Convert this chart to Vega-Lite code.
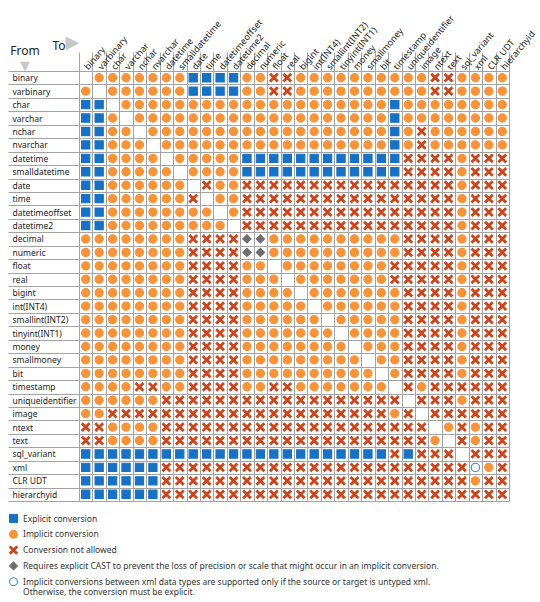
{
  "$schema": "https://vega.github.io/schema/vega-lite/v6.json",
  "width": 430,
  "height": 430,
  "autosize": "none",
  "padding": {"left": 79, "top": 71, "right": 31, "bottom": 101},
  "background": "white",
  "config": {
    "font": "Noto Sans",
    "view": {"stroke": null},
    "axis": {"labelFont": "Noto Sans", "titleFont": "Noto Sans"}
  },
  "title": {
    "text": "From",
    "subtitle": "▼",
    "anchor": "start",
    "frame": "group",
    "align": "center",
    "dx": -54,
    "dy": 65,
    "fontSize": 12,
    "fontWeight": "normal",
    "color": "#222222",
    "subtitleFont": "DejaVu Sans",
    "subtitleColor": "#c8c8c8",
    "subtitleFontSize": 13,
    "subtitlePadding": 2
  },
  "data": {
    "values": [
      {"f":0,"t":1,"k":"I"},{"f":0,"t":2,"k":"I"},{"f":0,"t":3,"k":"I"},{"f":0,"t":4,"k":"I"},{"f":0,"t":5,"k":"I"},{"f":0,"t":6,"k":"I"},{"f":0,"t":7,"k":"I"},{"f":0,"t":8,"k":"E"},{"f":0,"t":9,"k":"E"},{"f":0,"t":10,"k":"E"},{"f":0,"t":11,"k":"E"},{"f":0,"t":12,"k":"I"},{"f":0,"t":13,"k":"I"},{"f":0,"t":14,"k":"N"},{"f":0,"t":15,"k":"N"},{"f":0,"t":16,"k":"I"},{"f":0,"t":17,"k":"I"},{"f":0,"t":18,"k":"I"},{"f":0,"t":19,"k":"I"},{"f":0,"t":20,"k":"I"},{"f":0,"t":21,"k":"I"},{"f":0,"t":22,"k":"I"},{"f":0,"t":23,"k":"I"},{"f":0,"t":24,"k":"I"},{"f":0,"t":25,"k":"I"},{"f":0,"t":26,"k":"N"},{"f":0,"t":27,"k":"N"},{"f":0,"t":28,"k":"I"},{"f":0,"t":29,"k":"I"},{"f":0,"t":30,"k":"I"},{"f":0,"t":31,"k":"I"},
      {"f":1,"t":0,"k":"I"},{"f":1,"t":2,"k":"I"},{"f":1,"t":3,"k":"I"},{"f":1,"t":4,"k":"I"},{"f":1,"t":5,"k":"I"},{"f":1,"t":6,"k":"I"},{"f":1,"t":7,"k":"I"},{"f":1,"t":8,"k":"E"},{"f":1,"t":9,"k":"E"},{"f":1,"t":10,"k":"E"},{"f":1,"t":11,"k":"E"},{"f":1,"t":12,"k":"I"},{"f":1,"t":13,"k":"I"},{"f":1,"t":14,"k":"N"},{"f":1,"t":15,"k":"N"},{"f":1,"t":16,"k":"I"},{"f":1,"t":17,"k":"I"},{"f":1,"t":18,"k":"I"},{"f":1,"t":19,"k":"I"},{"f":1,"t":20,"k":"I"},{"f":1,"t":21,"k":"I"},{"f":1,"t":22,"k":"I"},{"f":1,"t":23,"k":"I"},{"f":1,"t":24,"k":"I"},{"f":1,"t":25,"k":"I"},{"f":1,"t":26,"k":"N"},{"f":1,"t":27,"k":"N"},{"f":1,"t":28,"k":"I"},{"f":1,"t":29,"k":"I"},{"f":1,"t":30,"k":"I"},{"f":1,"t":31,"k":"I"},
      {"f":2,"t":0,"k":"E"},{"f":2,"t":1,"k":"E"},{"f":2,"t":3,"k":"I"},{"f":2,"t":4,"k":"I"},{"f":2,"t":5,"k":"I"},{"f":2,"t":6,"k":"I"},{"f":2,"t":7,"k":"I"},{"f":2,"t":8,"k":"I"},{"f":2,"t":9,"k":"I"},{"f":2,"t":10,"k":"I"},{"f":2,"t":11,"k":"I"},{"f":2,"t":12,"k":"I"},{"f":2,"t":13,"k":"I"},{"f":2,"t":14,"k":"I"},{"f":2,"t":15,"k":"I"},{"f":2,"t":16,"k":"I"},{"f":2,"t":17,"k":"I"},{"f":2,"t":18,"k":"I"},{"f":2,"t":19,"k":"I"},{"f":2,"t":20,"k":"I"},{"f":2,"t":21,"k":"I"},{"f":2,"t":22,"k":"I"},{"f":2,"t":23,"k":"E"},{"f":2,"t":24,"k":"I"},{"f":2,"t":25,"k":"I"},{"f":2,"t":26,"k":"I"},{"f":2,"t":27,"k":"I"},{"f":2,"t":28,"k":"I"},{"f":2,"t":29,"k":"I"},{"f":2,"t":30,"k":"I"},{"f":2,"t":31,"k":"I"},
      {"f":3,"t":0,"k":"E"},{"f":3,"t":1,"k":"E"},{"f":3,"t":2,"k":"I"},{"f":3,"t":4,"k":"I"},{"f":3,"t":5,"k":"I"},{"f":3,"t":6,"k":"I"},{"f":3,"t":7,"k":"I"},{"f":3,"t":8,"k":"I"},{"f":3,"t":9,"k":"I"},{"f":3,"t":10,"k":"I"},{"f":3,"t":11,"k":"I"},{"f":3,"t":12,"k":"I"},{"f":3,"t":13,"k":"I"},{"f":3,"t":14,"k":"I"},{"f":3,"t":15,"k":"I"},{"f":3,"t":16,"k":"I"},{"f":3,"t":17,"k":"I"},{"f":3,"t":18,"k":"I"},{"f":3,"t":19,"k":"I"},{"f":3,"t":20,"k":"I"},{"f":3,"t":21,"k":"I"},{"f":3,"t":22,"k":"I"},{"f":3,"t":23,"k":"E"},{"f":3,"t":24,"k":"I"},{"f":3,"t":25,"k":"I"},{"f":3,"t":26,"k":"I"},{"f":3,"t":27,"k":"I"},{"f":3,"t":28,"k":"I"},{"f":3,"t":29,"k":"I"},{"f":3,"t":30,"k":"I"},{"f":3,"t":31,"k":"I"},
      {"f":4,"t":0,"k":"E"},{"f":4,"t":1,"k":"E"},{"f":4,"t":2,"k":"I"},{"f":4,"t":3,"k":"I"},{"f":4,"t":5,"k":"I"},{"f":4,"t":6,"k":"I"},{"f":4,"t":7,"k":"I"},{"f":4,"t":8,"k":"I"},{"f":4,"t":9,"k":"I"},{"f":4,"t":10,"k":"I"},{"f":4,"t":11,"k":"I"},{"f":4,"t":12,"k":"I"},{"f":4,"t":13,"k":"I"},{"f":4,"t":14,"k":"I"},{"f":4,"t":15,"k":"I"},{"f":4,"t":16,"k":"I"},{"f":4,"t":17,"k":"I"},{"f":4,"t":18,"k":"I"},{"f":4,"t":19,"k":"I"},{"f":4,"t":20,"k":"I"},{"f":4,"t":21,"k":"I"},{"f":4,"t":22,"k":"I"},{"f":4,"t":23,"k":"E"},{"f":4,"t":24,"k":"I"},{"f":4,"t":25,"k":"N"},{"f":4,"t":26,"k":"I"},{"f":4,"t":27,"k":"I"},{"f":4,"t":28,"k":"I"},{"f":4,"t":29,"k":"I"},{"f":4,"t":30,"k":"I"},{"f":4,"t":31,"k":"I"},
      {"f":5,"t":0,"k":"E"},{"f":5,"t":1,"k":"E"},{"f":5,"t":2,"k":"I"},{"f":5,"t":3,"k":"I"},{"f":5,"t":4,"k":"I"},{"f":5,"t":6,"k":"I"},{"f":5,"t":7,"k":"I"},{"f":5,"t":8,"k":"I"},{"f":5,"t":9,"k":"I"},{"f":5,"t":10,"k":"I"},{"f":5,"t":11,"k":"I"},{"f":5,"t":12,"k":"I"},{"f":5,"t":13,"k":"I"},{"f":5,"t":14,"k":"I"},{"f":5,"t":15,"k":"I"},{"f":5,"t":16,"k":"I"},{"f":5,"t":17,"k":"I"},{"f":5,"t":18,"k":"I"},{"f":5,"t":19,"k":"I"},{"f":5,"t":20,"k":"I"},{"f":5,"t":21,"k":"I"},{"f":5,"t":22,"k":"I"},{"f":5,"t":23,"k":"E"},{"f":5,"t":24,"k":"I"},{"f":5,"t":25,"k":"N"},{"f":5,"t":26,"k":"I"},{"f":5,"t":27,"k":"I"},{"f":5,"t":28,"k":"I"},{"f":5,"t":29,"k":"I"},{"f":5,"t":30,"k":"I"},{"f":5,"t":31,"k":"I"},
      {"f":6,"t":0,"k":"E"},{"f":6,"t":1,"k":"E"},{"f":6,"t":2,"k":"I"},{"f":6,"t":3,"k":"I"},{"f":6,"t":4,"k":"I"},{"f":6,"t":5,"k":"I"},{"f":6,"t":7,"k":"I"},{"f":6,"t":8,"k":"I"},{"f":6,"t":9,"k":"I"},{"f":6,"t":10,"k":"I"},{"f":6,"t":11,"k":"I"},{"f":6,"t":12,"k":"E"},{"f":6,"t":13,"k":"E"},{"f":6,"t":14,"k":"E"},{"f":6,"t":15,"k":"E"},{"f":6,"t":16,"k":"E"},{"f":6,"t":17,"k":"E"},{"f":6,"t":18,"k":"E"},{"f":6,"t":19,"k":"E"},{"f":6,"t":20,"k":"E"},{"f":6,"t":21,"k":"E"},{"f":6,"t":22,"k":"E"},{"f":6,"t":23,"k":"E"},{"f":6,"t":24,"k":"N"},{"f":6,"t":25,"k":"N"},{"f":6,"t":26,"k":"N"},{"f":6,"t":27,"k":"N"},{"f":6,"t":28,"k":"I"},{"f":6,"t":29,"k":"N"},{"f":6,"t":30,"k":"N"},{"f":6,"t":31,"k":"N"},
      {"f":7,"t":0,"k":"E"},{"f":7,"t":1,"k":"E"},{"f":7,"t":2,"k":"I"},{"f":7,"t":3,"k":"I"},{"f":7,"t":4,"k":"I"},{"f":7,"t":5,"k":"I"},{"f":7,"t":6,"k":"I"},{"f":7,"t":8,"k":"I"},{"f":7,"t":9,"k":"I"},{"f":7,"t":10,"k":"I"},{"f":7,"t":11,"k":"I"},{"f":7,"t":12,"k":"E"},{"f":7,"t":13,"k":"E"},{"f":7,"t":14,"k":"E"},{"f":7,"t":15,"k":"E"},{"f":7,"t":16,"k":"E"},{"f":7,"t":17,"k":"E"},{"f":7,"t":18,"k":"E"},{"f":7,"t":19,"k":"E"},{"f":7,"t":20,"k":"E"},{"f":7,"t":21,"k":"E"},{"f":7,"t":22,"k":"E"},{"f":7,"t":23,"k":"E"},{"f":7,"t":24,"k":"N"},{"f":7,"t":25,"k":"N"},{"f":7,"t":26,"k":"N"},{"f":7,"t":27,"k":"N"},{"f":7,"t":28,"k":"I"},{"f":7,"t":29,"k":"N"},{"f":7,"t":30,"k":"N"},{"f":7,"t":31,"k":"N"},
      {"f":8,"t":0,"k":"E"},{"f":8,"t":1,"k":"E"},{"f":8,"t":2,"k":"I"},{"f":8,"t":3,"k":"I"},{"f":8,"t":4,"k":"I"},{"f":8,"t":5,"k":"I"},{"f":8,"t":6,"k":"I"},{"f":8,"t":7,"k":"I"},{"f":8,"t":9,"k":"N"},{"f":8,"t":10,"k":"I"},{"f":8,"t":11,"k":"I"},{"f":8,"t":12,"k":"N"},{"f":8,"t":13,"k":"N"},{"f":8,"t":14,"k":"N"},{"f":8,"t":15,"k":"N"},{"f":8,"t":16,"k":"N"},{"f":8,"t":17,"k":"N"},{"f":8,"t":18,"k":"N"},{"f":8,"t":19,"k":"N"},{"f":8,"t":20,"k":"N"},{"f":8,"t":21,"k":"N"},{"f":8,"t":22,"k":"N"},{"f":8,"t":23,"k":"N"},{"f":8,"t":24,"k":"N"},{"f":8,"t":25,"k":"N"},{"f":8,"t":26,"k":"N"},{"f":8,"t":27,"k":"N"},{"f":8,"t":28,"k":"I"},{"f":8,"t":29,"k":"N"},{"f":8,"t":30,"k":"N"},{"f":8,"t":31,"k":"N"},
      {"f":9,"t":0,"k":"E"},{"f":9,"t":1,"k":"E"},{"f":9,"t":2,"k":"I"},{"f":9,"t":3,"k":"I"},{"f":9,"t":4,"k":"I"},{"f":9,"t":5,"k":"I"},{"f":9,"t":6,"k":"I"},{"f":9,"t":7,"k":"I"},{"f":9,"t":8,"k":"N"},{"f":9,"t":10,"k":"I"},{"f":9,"t":11,"k":"I"},{"f":9,"t":12,"k":"N"},{"f":9,"t":13,"k":"N"},{"f":9,"t":14,"k":"N"},{"f":9,"t":15,"k":"N"},{"f":9,"t":16,"k":"N"},{"f":9,"t":17,"k":"N"},{"f":9,"t":18,"k":"N"},{"f":9,"t":19,"k":"N"},{"f":9,"t":20,"k":"N"},{"f":9,"t":21,"k":"N"},{"f":9,"t":22,"k":"N"},{"f":9,"t":23,"k":"N"},{"f":9,"t":24,"k":"N"},{"f":9,"t":25,"k":"N"},{"f":9,"t":26,"k":"N"},{"f":9,"t":27,"k":"N"},{"f":9,"t":28,"k":"I"},{"f":9,"t":29,"k":"N"},{"f":9,"t":30,"k":"N"},{"f":9,"t":31,"k":"N"},
      {"f":10,"t":0,"k":"E"},{"f":10,"t":1,"k":"E"},{"f":10,"t":2,"k":"I"},{"f":10,"t":3,"k":"I"},{"f":10,"t":4,"k":"I"},{"f":10,"t":5,"k":"I"},{"f":10,"t":6,"k":"I"},{"f":10,"t":7,"k":"I"},{"f":10,"t":8,"k":"I"},{"f":10,"t":9,"k":"I"},{"f":10,"t":11,"k":"I"},{"f":10,"t":12,"k":"N"},{"f":10,"t":13,"k":"N"},{"f":10,"t":14,"k":"N"},{"f":10,"t":15,"k":"N"},{"f":10,"t":16,"k":"N"},{"f":10,"t":17,"k":"N"},{"f":10,"t":18,"k":"N"},{"f":10,"t":19,"k":"N"},{"f":10,"t":20,"k":"N"},{"f":10,"t":21,"k":"N"},{"f":10,"t":22,"k":"N"},{"f":10,"t":23,"k":"N"},{"f":10,"t":24,"k":"N"},{"f":10,"t":25,"k":"N"},{"f":10,"t":26,"k":"N"},{"f":10,"t":27,"k":"N"},{"f":10,"t":28,"k":"I"},{"f":10,"t":29,"k":"N"},{"f":10,"t":30,"k":"N"},{"f":10,"t":31,"k":"N"},
      {"f":11,"t":0,"k":"E"},{"f":11,"t":1,"k":"E"},{"f":11,"t":2,"k":"I"},{"f":11,"t":3,"k":"I"},{"f":11,"t":4,"k":"I"},{"f":11,"t":5,"k":"I"},{"f":11,"t":6,"k":"I"},{"f":11,"t":7,"k":"I"},{"f":11,"t":8,"k":"I"},{"f":11,"t":9,"k":"I"},{"f":11,"t":10,"k":"I"},{"f":11,"t":12,"k":"N"},{"f":11,"t":13,"k":"N"},{"f":11,"t":14,"k":"N"},{"f":11,"t":15,"k":"N"},{"f":11,"t":16,"k":"N"},{"f":11,"t":17,"k":"N"},{"f":11,"t":18,"k":"N"},{"f":11,"t":19,"k":"N"},{"f":11,"t":20,"k":"N"},{"f":11,"t":21,"k":"N"},{"f":11,"t":22,"k":"N"},{"f":11,"t":23,"k":"N"},{"f":11,"t":24,"k":"N"},{"f":11,"t":25,"k":"N"},{"f":11,"t":26,"k":"N"},{"f":11,"t":27,"k":"N"},{"f":11,"t":28,"k":"I"},{"f":11,"t":29,"k":"N"},{"f":11,"t":30,"k":"N"},{"f":11,"t":31,"k":"N"},
      {"f":12,"t":0,"k":"I"},{"f":12,"t":1,"k":"I"},{"f":12,"t":2,"k":"I"},{"f":12,"t":3,"k":"I"},{"f":12,"t":4,"k":"I"},{"f":12,"t":5,"k":"I"},{"f":12,"t":6,"k":"I"},{"f":12,"t":7,"k":"I"},{"f":12,"t":8,"k":"N"},{"f":12,"t":9,"k":"N"},{"f":12,"t":10,"k":"N"},{"f":12,"t":11,"k":"N"},{"f":12,"t":12,"k":"P"},{"f":12,"t":13,"k":"P"},{"f":12,"t":14,"k":"I"},{"f":12,"t":15,"k":"I"},{"f":12,"t":16,"k":"I"},{"f":12,"t":17,"k":"I"},{"f":12,"t":18,"k":"I"},{"f":12,"t":19,"k":"I"},{"f":12,"t":20,"k":"I"},{"f":12,"t":21,"k":"I"},{"f":12,"t":22,"k":"I"},{"f":12,"t":23,"k":"I"},{"f":12,"t":24,"k":"N"},{"f":12,"t":25,"k":"N"},{"f":12,"t":26,"k":"N"},{"f":12,"t":27,"k":"N"},{"f":12,"t":28,"k":"I"},{"f":12,"t":29,"k":"N"},{"f":12,"t":30,"k":"N"},{"f":12,"t":31,"k":"N"},
      {"f":13,"t":0,"k":"I"},{"f":13,"t":1,"k":"I"},{"f":13,"t":2,"k":"I"},{"f":13,"t":3,"k":"I"},{"f":13,"t":4,"k":"I"},{"f":13,"t":5,"k":"I"},{"f":13,"t":6,"k":"I"},{"f":13,"t":7,"k":"I"},{"f":13,"t":8,"k":"N"},{"f":13,"t":9,"k":"N"},{"f":13,"t":10,"k":"N"},{"f":13,"t":11,"k":"N"},{"f":13,"t":12,"k":"P"},{"f":13,"t":13,"k":"P"},{"f":13,"t":14,"k":"I"},{"f":13,"t":15,"k":"I"},{"f":13,"t":16,"k":"I"},{"f":13,"t":17,"k":"I"},{"f":13,"t":18,"k":"I"},{"f":13,"t":19,"k":"I"},{"f":13,"t":20,"k":"I"},{"f":13,"t":21,"k":"I"},{"f":13,"t":22,"k":"I"},{"f":13,"t":23,"k":"I"},{"f":13,"t":24,"k":"N"},{"f":13,"t":25,"k":"N"},{"f":13,"t":26,"k":"N"},{"f":13,"t":27,"k":"N"},{"f":13,"t":28,"k":"I"},{"f":13,"t":29,"k":"N"},{"f":13,"t":30,"k":"N"},{"f":13,"t":31,"k":"N"},
      {"f":14,"t":0,"k":"I"},{"f":14,"t":1,"k":"I"},{"f":14,"t":2,"k":"I"},{"f":14,"t":3,"k":"I"},{"f":14,"t":4,"k":"I"},{"f":14,"t":5,"k":"I"},{"f":14,"t":6,"k":"I"},{"f":14,"t":7,"k":"I"},{"f":14,"t":8,"k":"N"},{"f":14,"t":9,"k":"N"},{"f":14,"t":10,"k":"N"},{"f":14,"t":11,"k":"N"},{"f":14,"t":12,"k":"I"},{"f":14,"t":13,"k":"I"},{"f":14,"t":15,"k":"I"},{"f":14,"t":16,"k":"I"},{"f":14,"t":17,"k":"I"},{"f":14,"t":18,"k":"I"},{"f":14,"t":19,"k":"I"},{"f":14,"t":20,"k":"I"},{"f":14,"t":21,"k":"I"},{"f":14,"t":22,"k":"I"},{"f":14,"t":23,"k":"N"},{"f":14,"t":24,"k":"N"},{"f":14,"t":25,"k":"N"},{"f":14,"t":26,"k":"N"},{"f":14,"t":27,"k":"N"},{"f":14,"t":28,"k":"I"},{"f":14,"t":29,"k":"N"},{"f":14,"t":30,"k":"N"},{"f":14,"t":31,"k":"N"},
      {"f":15,"t":0,"k":"I"},{"f":15,"t":1,"k":"I"},{"f":15,"t":2,"k":"I"},{"f":15,"t":3,"k":"I"},{"f":15,"t":4,"k":"I"},{"f":15,"t":5,"k":"I"},{"f":15,"t":6,"k":"I"},{"f":15,"t":7,"k":"I"},{"f":15,"t":8,"k":"N"},{"f":15,"t":9,"k":"N"},{"f":15,"t":10,"k":"N"},{"f":15,"t":11,"k":"N"},{"f":15,"t":12,"k":"I"},{"f":15,"t":13,"k":"I"},{"f":15,"t":14,"k":"I"},{"f":15,"t":16,"k":"I"},{"f":15,"t":17,"k":"I"},{"f":15,"t":18,"k":"I"},{"f":15,"t":19,"k":"I"},{"f":15,"t":20,"k":"I"},{"f":15,"t":21,"k":"I"},{"f":15,"t":22,"k":"I"},{"f":15,"t":23,"k":"N"},{"f":15,"t":24,"k":"N"},{"f":15,"t":25,"k":"N"},{"f":15,"t":26,"k":"N"},{"f":15,"t":27,"k":"N"},{"f":15,"t":28,"k":"I"},{"f":15,"t":29,"k":"N"},{"f":15,"t":30,"k":"N"},{"f":15,"t":31,"k":"N"},
      {"f":16,"t":0,"k":"I"},{"f":16,"t":1,"k":"I"},{"f":16,"t":2,"k":"I"},{"f":16,"t":3,"k":"I"},{"f":16,"t":4,"k":"I"},{"f":16,"t":5,"k":"I"},{"f":16,"t":6,"k":"I"},{"f":16,"t":7,"k":"I"},{"f":16,"t":8,"k":"N"},{"f":16,"t":9,"k":"N"},{"f":16,"t":10,"k":"N"},{"f":16,"t":11,"k":"N"},{"f":16,"t":12,"k":"I"},{"f":16,"t":13,"k":"I"},{"f":16,"t":14,"k":"I"},{"f":16,"t":15,"k":"I"},{"f":16,"t":17,"k":"I"},{"f":16,"t":18,"k":"I"},{"f":16,"t":19,"k":"I"},{"f":16,"t":20,"k":"I"},{"f":16,"t":21,"k":"I"},{"f":16,"t":22,"k":"I"},{"f":16,"t":23,"k":"I"},{"f":16,"t":24,"k":"N"},{"f":16,"t":25,"k":"N"},{"f":16,"t":26,"k":"N"},{"f":16,"t":27,"k":"N"},{"f":16,"t":28,"k":"I"},{"f":16,"t":29,"k":"N"},{"f":16,"t":30,"k":"N"},{"f":16,"t":31,"k":"N"},
      {"f":17,"t":0,"k":"I"},{"f":17,"t":1,"k":"I"},{"f":17,"t":2,"k":"I"},{"f":17,"t":3,"k":"I"},{"f":17,"t":4,"k":"I"},{"f":17,"t":5,"k":"I"},{"f":17,"t":6,"k":"I"},{"f":17,"t":7,"k":"I"},{"f":17,"t":8,"k":"N"},{"f":17,"t":9,"k":"N"},{"f":17,"t":10,"k":"N"},{"f":17,"t":11,"k":"N"},{"f":17,"t":12,"k":"I"},{"f":17,"t":13,"k":"I"},{"f":17,"t":14,"k":"I"},{"f":17,"t":15,"k":"I"},{"f":17,"t":16,"k":"I"},{"f":17,"t":18,"k":"I"},{"f":17,"t":19,"k":"I"},{"f":17,"t":20,"k":"I"},{"f":17,"t":21,"k":"I"},{"f":17,"t":22,"k":"I"},{"f":17,"t":23,"k":"I"},{"f":17,"t":24,"k":"N"},{"f":17,"t":25,"k":"N"},{"f":17,"t":26,"k":"N"},{"f":17,"t":27,"k":"N"},{"f":17,"t":28,"k":"I"},{"f":17,"t":29,"k":"N"},{"f":17,"t":30,"k":"N"},{"f":17,"t":31,"k":"N"},
      {"f":18,"t":0,"k":"I"},{"f":18,"t":1,"k":"I"},{"f":18,"t":2,"k":"I"},{"f":18,"t":3,"k":"I"},{"f":18,"t":4,"k":"I"},{"f":18,"t":5,"k":"I"},{"f":18,"t":6,"k":"I"},{"f":18,"t":7,"k":"I"},{"f":18,"t":8,"k":"N"},{"f":18,"t":9,"k":"N"},{"f":18,"t":10,"k":"N"},{"f":18,"t":11,"k":"N"},{"f":18,"t":12,"k":"I"},{"f":18,"t":13,"k":"I"},{"f":18,"t":14,"k":"I"},{"f":18,"t":15,"k":"I"},{"f":18,"t":16,"k":"I"},{"f":18,"t":17,"k":"I"},{"f":18,"t":19,"k":"I"},{"f":18,"t":20,"k":"I"},{"f":18,"t":21,"k":"I"},{"f":18,"t":22,"k":"I"},{"f":18,"t":23,"k":"I"},{"f":18,"t":24,"k":"N"},{"f":18,"t":25,"k":"N"},{"f":18,"t":26,"k":"N"},{"f":18,"t":27,"k":"N"},{"f":18,"t":28,"k":"I"},{"f":18,"t":29,"k":"N"},{"f":18,"t":30,"k":"N"},{"f":18,"t":31,"k":"N"},
      {"f":19,"t":0,"k":"I"},{"f":19,"t":1,"k":"I"},{"f":19,"t":2,"k":"I"},{"f":19,"t":3,"k":"I"},{"f":19,"t":4,"k":"I"},{"f":19,"t":5,"k":"I"},{"f":19,"t":6,"k":"I"},{"f":19,"t":7,"k":"I"},{"f":19,"t":8,"k":"N"},{"f":19,"t":9,"k":"N"},{"f":19,"t":10,"k":"N"},{"f":19,"t":11,"k":"N"},{"f":19,"t":12,"k":"I"},{"f":19,"t":13,"k":"I"},{"f":19,"t":14,"k":"I"},{"f":19,"t":15,"k":"I"},{"f":19,"t":16,"k":"I"},{"f":19,"t":17,"k":"I"},{"f":19,"t":18,"k":"I"},{"f":19,"t":20,"k":"I"},{"f":19,"t":21,"k":"I"},{"f":19,"t":22,"k":"I"},{"f":19,"t":23,"k":"I"},{"f":19,"t":24,"k":"N"},{"f":19,"t":25,"k":"N"},{"f":19,"t":26,"k":"N"},{"f":19,"t":27,"k":"N"},{"f":19,"t":28,"k":"I"},{"f":19,"t":29,"k":"N"},{"f":19,"t":30,"k":"N"},{"f":19,"t":31,"k":"N"},
      {"f":20,"t":0,"k":"I"},{"f":20,"t":1,"k":"I"},{"f":20,"t":2,"k":"I"},{"f":20,"t":3,"k":"I"},{"f":20,"t":4,"k":"I"},{"f":20,"t":5,"k":"I"},{"f":20,"t":6,"k":"I"},{"f":20,"t":7,"k":"I"},{"f":20,"t":8,"k":"N"},{"f":20,"t":9,"k":"N"},{"f":20,"t":10,"k":"N"},{"f":20,"t":11,"k":"N"},{"f":20,"t":12,"k":"I"},{"f":20,"t":13,"k":"I"},{"f":20,"t":14,"k":"I"},{"f":20,"t":15,"k":"I"},{"f":20,"t":16,"k":"I"},{"f":20,"t":17,"k":"I"},{"f":20,"t":18,"k":"I"},{"f":20,"t":19,"k":"I"},{"f":20,"t":21,"k":"I"},{"f":20,"t":22,"k":"I"},{"f":20,"t":23,"k":"I"},{"f":20,"t":24,"k":"N"},{"f":20,"t":25,"k":"N"},{"f":20,"t":26,"k":"N"},{"f":20,"t":27,"k":"N"},{"f":20,"t":28,"k":"I"},{"f":20,"t":29,"k":"N"},{"f":20,"t":30,"k":"N"},{"f":20,"t":31,"k":"N"},
      {"f":21,"t":0,"k":"I"},{"f":21,"t":1,"k":"I"},{"f":21,"t":2,"k":"I"},{"f":21,"t":3,"k":"I"},{"f":21,"t":4,"k":"I"},{"f":21,"t":5,"k":"I"},{"f":21,"t":6,"k":"I"},{"f":21,"t":7,"k":"I"},{"f":21,"t":8,"k":"N"},{"f":21,"t":9,"k":"N"},{"f":21,"t":10,"k":"N"},{"f":21,"t":11,"k":"N"},{"f":21,"t":12,"k":"I"},{"f":21,"t":13,"k":"I"},{"f":21,"t":14,"k":"I"},{"f":21,"t":15,"k":"I"},{"f":21,"t":16,"k":"I"},{"f":21,"t":17,"k":"I"},{"f":21,"t":18,"k":"I"},{"f":21,"t":19,"k":"I"},{"f":21,"t":20,"k":"I"},{"f":21,"t":22,"k":"I"},{"f":21,"t":23,"k":"I"},{"f":21,"t":24,"k":"N"},{"f":21,"t":25,"k":"N"},{"f":21,"t":26,"k":"N"},{"f":21,"t":27,"k":"N"},{"f":21,"t":28,"k":"I"},{"f":21,"t":29,"k":"N"},{"f":21,"t":30,"k":"N"},{"f":21,"t":31,"k":"N"},
      {"f":22,"t":0,"k":"I"},{"f":22,"t":1,"k":"I"},{"f":22,"t":2,"k":"I"},{"f":22,"t":3,"k":"I"},{"f":22,"t":4,"k":"I"},{"f":22,"t":5,"k":"I"},{"f":22,"t":6,"k":"I"},{"f":22,"t":7,"k":"I"},{"f":22,"t":8,"k":"N"},{"f":22,"t":9,"k":"N"},{"f":22,"t":10,"k":"N"},{"f":22,"t":11,"k":"N"},{"f":22,"t":12,"k":"I"},{"f":22,"t":13,"k":"I"},{"f":22,"t":14,"k":"I"},{"f":22,"t":15,"k":"I"},{"f":22,"t":16,"k":"I"},{"f":22,"t":17,"k":"I"},{"f":22,"t":18,"k":"I"},{"f":22,"t":19,"k":"I"},{"f":22,"t":20,"k":"I"},{"f":22,"t":21,"k":"I"},{"f":22,"t":23,"k":"I"},{"f":22,"t":24,"k":"N"},{"f":22,"t":25,"k":"N"},{"f":22,"t":26,"k":"N"},{"f":22,"t":27,"k":"N"},{"f":22,"t":28,"k":"I"},{"f":22,"t":29,"k":"N"},{"f":22,"t":30,"k":"N"},{"f":22,"t":31,"k":"N"},
      {"f":23,"t":0,"k":"I"},{"f":23,"t":1,"k":"I"},{"f":23,"t":2,"k":"I"},{"f":23,"t":3,"k":"I"},{"f":23,"t":4,"k":"N"},{"f":23,"t":5,"k":"N"},{"f":23,"t":6,"k":"I"},{"f":23,"t":7,"k":"I"},{"f":23,"t":8,"k":"N"},{"f":23,"t":9,"k":"N"},{"f":23,"t":10,"k":"N"},{"f":23,"t":11,"k":"N"},{"f":23,"t":12,"k":"I"},{"f":23,"t":13,"k":"I"},{"f":23,"t":14,"k":"N"},{"f":23,"t":15,"k":"N"},{"f":23,"t":16,"k":"I"},{"f":23,"t":17,"k":"I"},{"f":23,"t":18,"k":"I"},{"f":23,"t":19,"k":"I"},{"f":23,"t":20,"k":"I"},{"f":23,"t":21,"k":"I"},{"f":23,"t":22,"k":"I"},{"f":23,"t":24,"k":"N"},{"f":23,"t":25,"k":"I"},{"f":23,"t":26,"k":"N"},{"f":23,"t":27,"k":"N"},{"f":23,"t":28,"k":"N"},{"f":23,"t":29,"k":"N"},{"f":23,"t":30,"k":"N"},{"f":23,"t":31,"k":"N"},
      {"f":24,"t":0,"k":"I"},{"f":24,"t":1,"k":"I"},{"f":24,"t":2,"k":"I"},{"f":24,"t":3,"k":"I"},{"f":24,"t":4,"k":"I"},{"f":24,"t":5,"k":"I"},{"f":24,"t":6,"k":"N"},{"f":24,"t":7,"k":"N"},{"f":24,"t":8,"k":"N"},{"f":24,"t":9,"k":"N"},{"f":24,"t":10,"k":"N"},{"f":24,"t":11,"k":"N"},{"f":24,"t":12,"k":"N"},{"f":24,"t":13,"k":"N"},{"f":24,"t":14,"k":"N"},{"f":24,"t":15,"k":"N"},{"f":24,"t":16,"k":"N"},{"f":24,"t":17,"k":"N"},{"f":24,"t":18,"k":"N"},{"f":24,"t":19,"k":"N"},{"f":24,"t":20,"k":"N"},{"f":24,"t":21,"k":"N"},{"f":24,"t":22,"k":"N"},{"f":24,"t":23,"k":"N"},{"f":24,"t":25,"k":"N"},{"f":24,"t":26,"k":"N"},{"f":24,"t":27,"k":"N"},{"f":24,"t":28,"k":"I"},{"f":24,"t":29,"k":"N"},{"f":24,"t":30,"k":"N"},{"f":24,"t":31,"k":"N"},
      {"f":25,"t":0,"k":"I"},{"f":25,"t":1,"k":"I"},{"f":25,"t":2,"k":"N"},{"f":25,"t":3,"k":"N"},{"f":25,"t":4,"k":"N"},{"f":25,"t":5,"k":"N"},{"f":25,"t":6,"k":"N"},{"f":25,"t":7,"k":"N"},{"f":25,"t":8,"k":"N"},{"f":25,"t":9,"k":"N"},{"f":25,"t":10,"k":"N"},{"f":25,"t":11,"k":"N"},{"f":25,"t":12,"k":"N"},{"f":25,"t":13,"k":"N"},{"f":25,"t":14,"k":"N"},{"f":25,"t":15,"k":"N"},{"f":25,"t":16,"k":"N"},{"f":25,"t":17,"k":"N"},{"f":25,"t":18,"k":"N"},{"f":25,"t":19,"k":"N"},{"f":25,"t":20,"k":"N"},{"f":25,"t":21,"k":"N"},{"f":25,"t":22,"k":"N"},{"f":25,"t":23,"k":"I"},{"f":25,"t":24,"k":"N"},{"f":25,"t":26,"k":"N"},{"f":25,"t":27,"k":"N"},{"f":25,"t":28,"k":"N"},{"f":25,"t":29,"k":"N"},{"f":25,"t":30,"k":"N"},{"f":25,"t":31,"k":"N"},
      {"f":26,"t":0,"k":"N"},{"f":26,"t":1,"k":"N"},{"f":26,"t":2,"k":"I"},{"f":26,"t":3,"k":"I"},{"f":26,"t":4,"k":"I"},{"f":26,"t":5,"k":"I"},{"f":26,"t":6,"k":"N"},{"f":26,"t":7,"k":"N"},{"f":26,"t":8,"k":"N"},{"f":26,"t":9,"k":"N"},{"f":26,"t":10,"k":"N"},{"f":26,"t":11,"k":"N"},{"f":26,"t":12,"k":"N"},{"f":26,"t":13,"k":"N"},{"f":26,"t":14,"k":"N"},{"f":26,"t":15,"k":"N"},{"f":26,"t":16,"k":"N"},{"f":26,"t":17,"k":"N"},{"f":26,"t":18,"k":"N"},{"f":26,"t":19,"k":"N"},{"f":26,"t":20,"k":"N"},{"f":26,"t":21,"k":"N"},{"f":26,"t":22,"k":"N"},{"f":26,"t":23,"k":"N"},{"f":26,"t":24,"k":"N"},{"f":26,"t":25,"k":"N"},{"f":26,"t":27,"k":"I"},{"f":26,"t":28,"k":"N"},{"f":26,"t":29,"k":"I"},{"f":26,"t":30,"k":"N"},{"f":26,"t":31,"k":"N"},
      {"f":27,"t":0,"k":"N"},{"f":27,"t":1,"k":"N"},{"f":27,"t":2,"k":"I"},{"f":27,"t":3,"k":"I"},{"f":27,"t":4,"k":"I"},{"f":27,"t":5,"k":"I"},{"f":27,"t":6,"k":"N"},{"f":27,"t":7,"k":"N"},{"f":27,"t":8,"k":"N"},{"f":27,"t":9,"k":"N"},{"f":27,"t":10,"k":"N"},{"f":27,"t":11,"k":"N"},{"f":27,"t":12,"k":"N"},{"f":27,"t":13,"k":"N"},{"f":27,"t":14,"k":"N"},{"f":27,"t":15,"k":"N"},{"f":27,"t":16,"k":"N"},{"f":27,"t":17,"k":"N"},{"f":27,"t":18,"k":"N"},{"f":27,"t":19,"k":"N"},{"f":27,"t":20,"k":"N"},{"f":27,"t":21,"k":"N"},{"f":27,"t":22,"k":"N"},{"f":27,"t":23,"k":"N"},{"f":27,"t":24,"k":"N"},{"f":27,"t":25,"k":"N"},{"f":27,"t":26,"k":"I"},{"f":27,"t":28,"k":"N"},{"f":27,"t":29,"k":"I"},{"f":27,"t":30,"k":"N"},{"f":27,"t":31,"k":"N"},
      {"f":28,"t":0,"k":"E"},{"f":28,"t":1,"k":"E"},{"f":28,"t":2,"k":"E"},{"f":28,"t":3,"k":"E"},{"f":28,"t":4,"k":"E"},{"f":28,"t":5,"k":"E"},{"f":28,"t":6,"k":"E"},{"f":28,"t":7,"k":"E"},{"f":28,"t":8,"k":"E"},{"f":28,"t":9,"k":"E"},{"f":28,"t":10,"k":"E"},{"f":28,"t":11,"k":"E"},{"f":28,"t":12,"k":"E"},{"f":28,"t":13,"k":"E"},{"f":28,"t":14,"k":"E"},{"f":28,"t":15,"k":"E"},{"f":28,"t":16,"k":"E"},{"f":28,"t":17,"k":"E"},{"f":28,"t":18,"k":"E"},{"f":28,"t":19,"k":"E"},{"f":28,"t":20,"k":"E"},{"f":28,"t":21,"k":"E"},{"f":28,"t":22,"k":"E"},{"f":28,"t":23,"k":"N"},{"f":28,"t":24,"k":"E"},{"f":28,"t":25,"k":"N"},{"f":28,"t":26,"k":"N"},{"f":28,"t":27,"k":"N"},{"f":28,"t":29,"k":"N"},{"f":28,"t":30,"k":"N"},{"f":28,"t":31,"k":"N"},
      {"f":29,"t":0,"k":"E"},{"f":29,"t":1,"k":"E"},{"f":29,"t":2,"k":"E"},{"f":29,"t":3,"k":"E"},{"f":29,"t":4,"k":"E"},{"f":29,"t":5,"k":"E"},{"f":29,"t":6,"k":"N"},{"f":29,"t":7,"k":"N"},{"f":29,"t":8,"k":"N"},{"f":29,"t":9,"k":"N"},{"f":29,"t":10,"k":"N"},{"f":29,"t":11,"k":"N"},{"f":29,"t":12,"k":"N"},{"f":29,"t":13,"k":"N"},{"f":29,"t":14,"k":"N"},{"f":29,"t":15,"k":"N"},{"f":29,"t":16,"k":"N"},{"f":29,"t":17,"k":"N"},{"f":29,"t":18,"k":"N"},{"f":29,"t":19,"k":"N"},{"f":29,"t":20,"k":"N"},{"f":29,"t":21,"k":"N"},{"f":29,"t":22,"k":"N"},{"f":29,"t":23,"k":"N"},{"f":29,"t":24,"k":"N"},{"f":29,"t":25,"k":"N"},{"f":29,"t":26,"k":"N"},{"f":29,"t":27,"k":"N"},{"f":29,"t":28,"k":"N"},{"f":29,"t":29,"k":"U"},{"f":29,"t":30,"k":"I"},{"f":29,"t":31,"k":"N"},
      {"f":30,"t":0,"k":"E"},{"f":30,"t":1,"k":"E"},{"f":30,"t":2,"k":"E"},{"f":30,"t":3,"k":"E"},{"f":30,"t":4,"k":"E"},{"f":30,"t":5,"k":"E"},{"f":30,"t":6,"k":"N"},{"f":30,"t":7,"k":"N"},{"f":30,"t":8,"k":"N"},{"f":30,"t":9,"k":"N"},{"f":30,"t":10,"k":"N"},{"f":30,"t":11,"k":"N"},{"f":30,"t":12,"k":"N"},{"f":30,"t":13,"k":"N"},{"f":30,"t":14,"k":"N"},{"f":30,"t":15,"k":"N"},{"f":30,"t":16,"k":"N"},{"f":30,"t":17,"k":"N"},{"f":30,"t":18,"k":"N"},{"f":30,"t":19,"k":"N"},{"f":30,"t":20,"k":"N"},{"f":30,"t":21,"k":"N"},{"f":30,"t":22,"k":"N"},{"f":30,"t":23,"k":"N"},{"f":30,"t":24,"k":"N"},{"f":30,"t":25,"k":"N"},{"f":30,"t":26,"k":"N"},{"f":30,"t":27,"k":"N"},{"f":30,"t":28,"k":"N"},{"f":30,"t":29,"k":"I"},{"f":30,"t":30,"k":"N"},{"f":30,"t":31,"k":"N"},
      {"f":31,"t":0,"k":"E"},{"f":31,"t":1,"k":"E"},{"f":31,"t":2,"k":"E"},{"f":31,"t":3,"k":"E"},{"f":31,"t":4,"k":"E"},{"f":31,"t":5,"k":"E"},{"f":31,"t":6,"k":"N"},{"f":31,"t":7,"k":"N"},{"f":31,"t":8,"k":"N"},{"f":31,"t":9,"k":"N"},{"f":31,"t":10,"k":"N"},{"f":31,"t":11,"k":"N"},{"f":31,"t":12,"k":"N"},{"f":31,"t":13,"k":"N"},{"f":31,"t":14,"k":"N"},{"f":31,"t":15,"k":"N"},{"f":31,"t":16,"k":"N"},{"f":31,"t":17,"k":"N"},{"f":31,"t":18,"k":"N"},{"f":31,"t":19,"k":"N"},{"f":31,"t":20,"k":"N"},{"f":31,"t":21,"k":"N"},{"f":31,"t":22,"k":"N"},{"f":31,"t":23,"k":"N"},{"f":31,"t":24,"k":"N"},{"f":31,"t":25,"k":"N"},{"f":31,"t":26,"k":"N"},{"f":31,"t":27,"k":"N"},{"f":31,"t":28,"k":"N"},{"f":31,"t":29,"k":"N"},{"f":31,"t":30,"k":"N"},{"f":31,"t":31,"k":"N"}
    ]
  },
  "mark": {"type": "point", "filled": true, "size": 68, "strokeWidth": 1.1, "opacity": 1},
  "encoding": {
    "x": {
      "field": "t",
      "type": "ordinal",
      "scale": {"type": "band", "domain": [0,1,2,3,4,5,6,7,8,9,10,11,12,13,14,15,16,17,18,19,20,21,22,23,24,25,26,27,28,29,30,31], "paddingInner": 0, "paddingOuter": 0},
      "axis": {
        "orient": "top",
        "title": "To",
        "titleX": -27,
        "titleY": -22,
        "titleAngle": 0,
        "titleAlign": "left",
        "titleBaseline": "alphabetic",
        "titleFontSize": 12,
        "titleFontWeight": "normal",
        "titleColor": "#222222",
        "domain": false,
        "grid": true,
        "gridColor": "#a3a3a3",
        "gridWidth": 1,
        "ticks": true,
        "tickBand": "extent",
        "tickSize": 19,
        "tickColor": "#a3a3a3",
        "labelAngle": -50,
        "labelAlign": "left",
        "labelBaseline": "middle",
        "labelPadding": -16,
        "labelFontSize": 9,
        "labelColor": "#222222",
        "labelOverlap": false,
        "labelBound": false,
        "labelExpr": "['binary','varbinary','char','varchar','nchar','nvarchar','datetime','smalldatetime','date','time','datetimeoffset','datetime2','decimal','numeric','float','real','bigint','int(INT4)','smallint(INT2)','tinyint(INT1)','money','smallmoney','bit','timestamp','uniqueidentifier','image','ntext','text','sql_variant','xml','CLR UDT','hierarchyid'][datum.value]"
      }
    },
    "y": {
      "field": "f",
      "type": "ordinal",
      "scale": {"type": "band", "domain": [0,1,2,3,4,5,6,7,8,9,10,11,12,13,14,15,16,17,18,19,20,21,22,23,24,25,26,27,28,29,30,31], "paddingInner": 0, "paddingOuter": 0},
      "axis": {
        "title": "▶",
        "titleFont": "DejaVu Sans",
        "titleX": -7,
        "titleY": -29,
        "titleAngle": 0,
        "titleAlign": "center",
        "titleBaseline": "middle",
        "titleFontSize": 18,
        "titleColor": "#c8c8c8",
        "domain": false,
        "grid": true,
        "gridColor": "#a3a3a3",
        "gridWidth": 1,
        "ticks": true,
        "tickBand": "extent",
        "tickSize": 71,
        "tickColor": "#a3a3a3",
        "labelAlign": "left",
        "labelBaseline": "middle",
        "labelPadding": -4,
        "labelFontSize": 8.5,
        "labelColor": "#222222",
        "labelOverlap": false,
        "labelExpr": "['binary','varbinary','char','varchar','nchar','nvarchar','datetime','smalldatetime','date','time','datetimeoffset','datetime2','decimal','numeric','float','real','bigint','int(INT4)','smallint(INT2)','tinyint(INT1)','money','smallmoney','bit','timestamp','uniqueidentifier','image','ntext','text','sql_variant','xml','CLR UDT','hierarchyid'][datum.value]"
      }
    },
    "shape": {
      "field": "k",
      "type": "nominal",
      "scale": {"domain": ["E","I","N","P","U"], "range": ["square","circle","M-1,-0.7L-0.7,-1L0,-0.3L0.7,-1L1,-0.7L0.3,0L1,0.7L0.7,1L0,0.3L-0.7,1L-1,0.7L-0.3,0Z","diamond","circle"]},
      "legend": {
        "orient": "none",
        "legendX": -56,
        "legendY": 443,
        "title": "Otherwise, the conversion must be explicit.",
        "titleOrient": "bottom",
        "titleAnchor": "start",
        "titleFontSize": 8.5,
        "titleFontWeight": "normal",
        "titleColor": "#333333",
        "titlePadding": 0,
        "titleLimit": 600,
        "direction": "vertical",
        "padding": 0,
        "rowPadding": 2.8,
        "symbolOffset": -14,
        "labelOffset": 5,
        "labelFontSize": 8.5,
        "labelColor": "#333333",
        "labelLimit": 600,
        "symbolSize": 62,
        "symbolStrokeWidth": 1.1,
        "labelExpr": "datum.label == 'E' ? 'Explicit conversion' : datum.label == 'I' ? 'Implicit conversion' : datum.label == 'N' ? 'Conversion not allowed' : datum.label == 'P' ? 'Requires explicit CAST to prevent the loss of precision or scale that might occur in an implicit conversion.' : 'Implicit conversions between xml data types are supported only if the source or target is untyped xml.'"
      }
    },
    "fill": {
      "field": "k",
      "type": "nominal",
      "scale": {"domain": ["E","I","N","P","U"], "range": ["#1771c4","#f7943a","#c9461d","#6e6e6e","#ffffff"]}
    },
    "stroke": {
      "field": "k",
      "type": "nominal",
      "scale": {"domain": ["E","I","N","P","U"], "range": ["#1771c4","#f7943a","#c9461d","#6e6e6e","#3b8ad0"]}
    }
  }
}
